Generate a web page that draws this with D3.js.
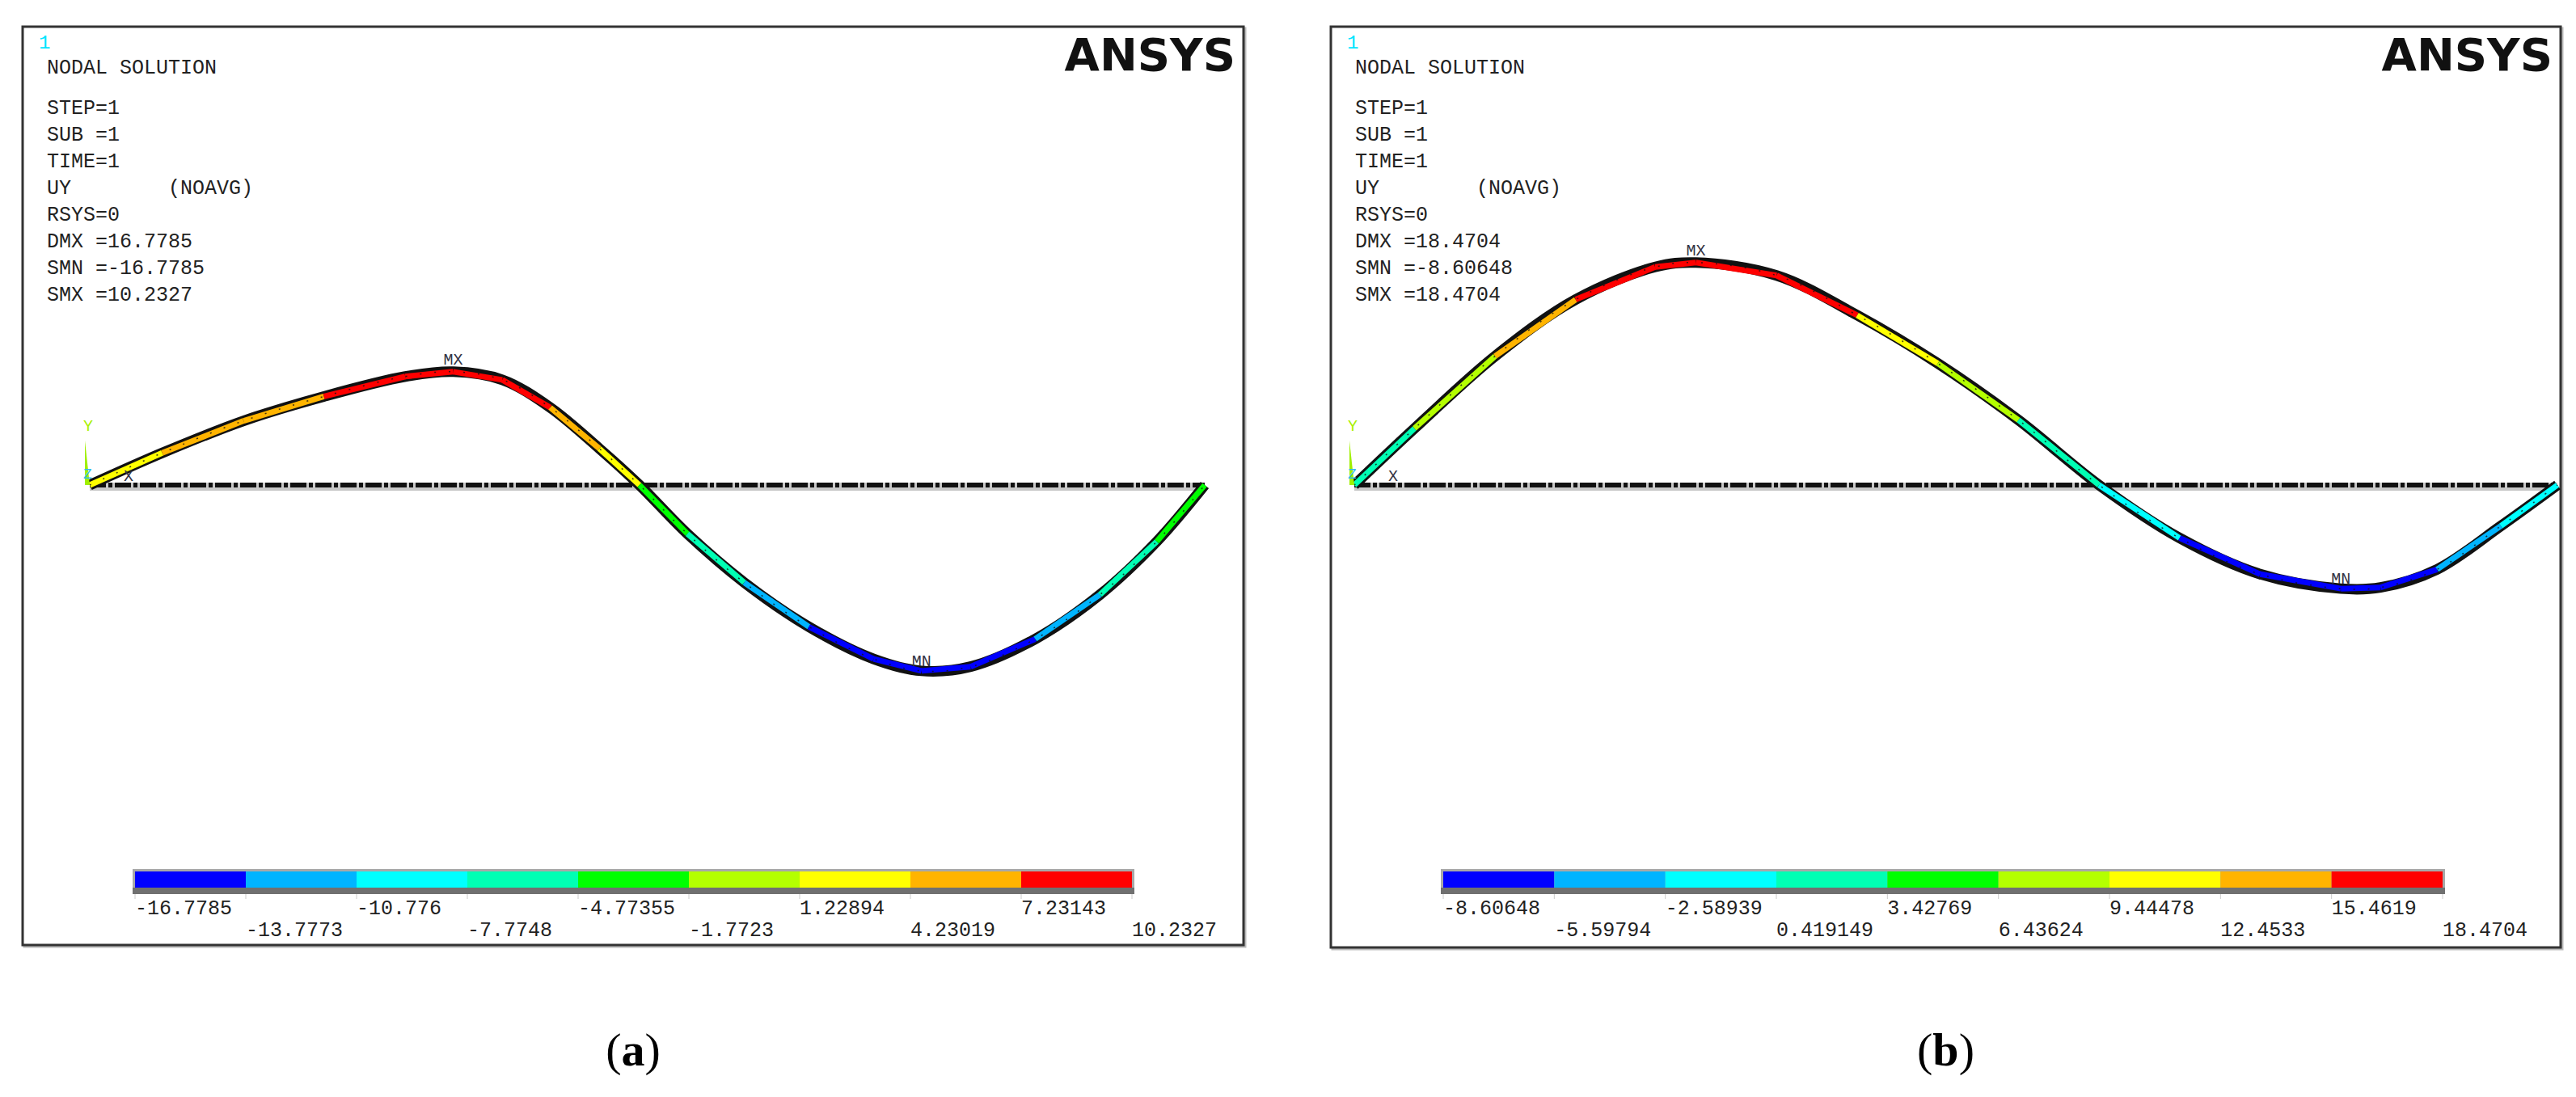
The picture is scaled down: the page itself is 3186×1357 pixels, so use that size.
<!DOCTYPE html>
<html><head><meta charset="utf-8">
<script src="https://cdn.jsdelivr.net/npm/d3@7"></script>
<style>body{margin:0;background:#fff}text{font-family:"Liberation Mono","DejaVu Sans Mono",monospace}</style>
</head><body><div id="chart"></div>
<script>
var svgWidth = 3186, svgHeight = 1357;

// band colours of the ANSYS legend
var bandColors = ["#0000ff","#00b4ff","#00ffff","#00ffb4","#00ff00","#b4ff00","#ffff00","#ffb400","#ff0000"];

// panel (a)
var ticksA = ["-16.7785","-13.7773","-10.776","-7.7748","-4.77355","-1.7723","1.22894","4.23019","7.23143","10.2327"];
var infoA = ["STEP=1","SUB =1","TIME=1","UY        (NOAVG)","RSYS=0","DMX =16.7785","SMN =-16.7785","SMX =10.2327"];
// position along beam (0..1) and UY
var posA = [0,0.065,0.138,0.21,0.283,0.326,0.37,0.413,0.457,0.493,0.536,0.587,0.645,0.703,0.746,0.79,0.848,0.906,0.957,1];
var uyA  = [0,2.9,5.8,8.0,9.8,10.23,9.5,7.0,3.3,0,-4.4,-8.8,-12.8,-15.7,-16.78,-16.4,-13.9,-9.9,-5.1,0];

// panel (b)
var ticksB = ["-8.60648","-5.59794","-2.58939","0.419149","3.42769","6.43624","9.44478","12.4533","15.4619","18.4704"];
var infoB = ["STEP=1","SUB =1","TIME=1","UY        (NOAVG)","RSYS=0","DMX =18.4704","SMN =-8.60648","SMX =18.4704"];
var posB = [0,0.05,0.117,0.184,0.25,0.284,0.351,0.418,0.485,0.552,0.619,0.686,0.753,0.82,0.853,0.9,0.953,1];
var uyB  = [0,4.7,10.7,15.4,18.1,18.47,17.4,14.1,10.1,5.4,0,-4.4,-7.4,-8.6,-8.5,-7.0,-3.4,0];

var svg = d3.select("#chart").append("svg").attr("width", svgWidth).attr("height", svgHeight);

function drawPanel(p) {
  var g = svg.append("g");
  g.append("rect").attr("x", p.x0 + 2).attr("y", 35).attr("width", p.x1 - p.x0).attr("height", p.y1 - 33)
    .attr("fill", "none").attr("stroke", "#bbb").attr("stroke-width", 3);
  g.append("rect").attr("x", p.x0).attr("y", 33).attr("width", p.x1 - p.x0).attr("height", p.y1 - 33)
    .attr("fill", "#fff").attr("stroke", "#333").attr("stroke-width", 3);

  g.append("text").attr("x", p.x0 + 20).attr("y", 60).attr("fill", "#00e5ff").attr("font-size", 24).text("1");
  g.append("text").attr("x", p.x0 + 30).attr("y", 91).attr("font-size", 25).attr("fill", "#222").text("NODAL SOLUTION");
  g.selectAll(".info").data(p.info).enter().append("text")
    .attr("x", p.x0 + 30).attr("y", (d, i) => 141 + i * 33)
    .attr("font-size", 25).attr("fill", "#222").attr("xml:space", "preserve").style("white-space", "pre").text(d => d);
  g.append("text").attr("x", p.x1 - 10).attr("y", 87).attr("text-anchor", "end")
    .attr("font-family", "DejaVu Sans").attr("font-weight", "bold").attr("font-size", 56).attr("fill", "#111")
    .style("font-family", "'DejaVu Sans',sans-serif").text("ANSYS");

  var xs = d3.scaleLinear().domain([0, 1]).range([p.bx0, p.bx1]);
  var ys = d3.scaleLinear().domain([0, 1]).range([600, 600 - p.pxPerUnit]);
  var thr = d3.range(10).map(i => p.min + (p.max - p.min) * i / 9);
  var colorOf = d3.scaleThreshold().domain(thr.slice(1, 9)).range(bandColors);

  // undeformed beam
  g.append("line").attr("x1", xs(0)).attr("x2", xs(1)).attr("y1", 602).attr("y2", 602)
    .attr("stroke", "#c8c8c8").attr("stroke-width", 10);
  g.append("line").attr("x1", xs(0)).attr("x2", xs(1)).attr("y1", 600).attr("y2", 600)
    .attr("stroke", "#111").attr("stroke-width", 6).attr("stroke-dasharray", "20,3,5,3");

  // deformed beam
  var pts = p.pos.map((d, i) => [xs(d), ys(p.uy[i])]);
  var line = d3.line().curve(d3.curveCatmullRom);
  g.append("path").attr("d", line(pts)).attr("fill", "none").attr("stroke", "#111").attr("stroke-width", 13);
  var segG = g.append("g");
  for (var i = 0; i < pts.length - 1; i++) {
    var sub = [pts[Math.max(0, i - 1)], pts[i], pts[i + 1], pts[Math.min(pts.length - 1, i + 2)]];
    var path = d3.path();
    // draw only segment i..i+1 of the catmull curve
    var full = line(sub);
    segG.append("path").attr("d", line([pts[i], pts[i + 1]]))
      .attr("fill", "none").attr("stroke", colorOf((p.uy[i] + p.uy[i + 1]) / 2)).attr("stroke-width", 7);
  }
  g.append("path").attr("d", line(pts)).attr("fill", "none").attr("stroke", "#111").attr("stroke-width", 1.5)
    .attr("stroke-dasharray", "2,16").attr("opacity", 0.8);

  var imax = p.uy.indexOf(d3.max(p.uy)), imin = p.uy.indexOf(d3.min(p.uy));
  g.append("text").attr("x", pts[imax][0]).attr("y", pts[imax][1] - 9).attr("text-anchor", "middle")
    .attr("font-size", 20).attr("fill", "#334").text("MX");
  g.append("text").attr("x", pts[imin][0]).attr("y", pts[imin][1] - 6).attr("text-anchor", "middle")
    .attr("font-size", 20).attr("fill", "#334").text("MN");

  // triad
  var tx = xs(0) - 6;
  g.append("path").attr("d", `M${tx},600 L${tx},545 L${tx + 6},600 Z`).attr("fill", "#a0f000");
  g.append("text").attr("x", tx - 2).attr("y", 533).attr("font-size", 20).attr("fill", "#a8f000").text("Y");
  g.append("text").attr("x", tx - 2).attr("y", 592).attr("font-size", 18).attr("fill", "#33bbee").text("Z");
  g.append("text").attr("x", tx + 48).attr("y", 595).attr("font-size", 20).attr("fill", "#334").text("X");

  // colour bar
  var cx = d3.scaleLinear().domain([0, 9]).range([p.cb0, p.cb1]);
  g.append("rect").attr("x", cx(0) - 3).attr("y", 1075).attr("width", cx(9) - cx(0) + 6).attr("height", 31).attr("fill", "#a8a8a8");
  g.append("rect").attr("x", cx(0) - 3).attr("y", 1098).attr("width", cx(9) - cx(0) + 6).attr("height", 8).attr("fill", "#707070");
  g.selectAll(".band").data(bandColors).enter().append("rect")
    .attr("x", (d, i) => cx(i)).attr("y", 1078).attr("width", cx(1) - cx(0)).attr("height", 20).attr("fill", d => d);
  g.selectAll(".tk").data(d3.range(10)).enter().append("line")
    .attr("x1", d => cx(d)).attr("x2", d => cx(d)).attr("y1", 1106).attr("y2", 1112).attr("stroke", "#ccc");
  g.selectAll(".lab").data(p.ticks).enter().append("text")
    .attr("x", (d, i) => cx(i)).attr("y", (d, i) => i % 2 ? 1158 : 1131)
    .attr("font-size", 25).attr("fill", "#222").text(d => d);
  svg.append("text").attr("x", (p.x0 + p.x1) / 2).attr("y", 1318).attr("text-anchor", "middle")
    .attr("font-family", "Liberation Serif").style("font-family", "'Liberation Serif',serif")
    .attr("font-size", 58).html(`(<tspan font-weight="bold">${p.name}</tspan>)`);
}

drawPanel({name: "a", x0: 28, x1: 1538, y1: 1169, bx0: 111, bx1: 1490, pxPerUnit: 13.7,
  min: -16.7785, max: 10.2327, info: infoA, ticks: ticksA, pos: posA, uy: uyA, cb0: 167, cb1: 1400});
drawPanel({name: "b", x0: 1646, x1: 3167, y1: 1172, bx0: 1675, bx1: 3163, pxPerUnit: 14.9,
  min: -8.60648, max: 18.4704, info: infoB, ticks: ticksB, pos: posB, uy: uyB, cb0: 1785, cb1: 3021});
</script></body></html>
